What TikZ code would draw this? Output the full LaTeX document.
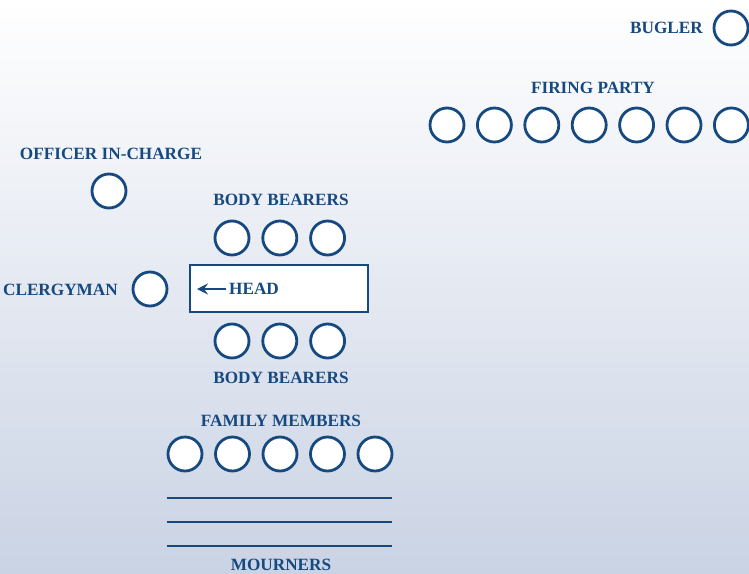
\documentclass[tikz,border=0pt]{standalone}
\usepackage{fontspec}
\setmainfont{Liberation Serif}
\usetikzlibrary{arrows.meta}
\definecolor{navy}{RGB}{22,73,128}
\definecolor{bgblue}{RGB}{202,211,228}
\tikzset{
  seat/.style={circle, draw=navy, fill=white, line width=2.8pt, minimum size=34pt, inner sep=0pt},
  role/.style={text=navy, font=\bfseries\fontsize{17.2}{19}\selectfont, inner sep=0pt},
}
\begin{document}
\begin{tikzpicture}[x=1pt,y=-1pt]
% Background
\fill[top color=white, bottom color=bgblue] (0,0) rectangle (749,573);
\useasboundingbox (0,0) rectangle (749,573);
% Bugler
\node[seat] (bugler) at (731,28) {};
\node[role, anchor=east] (bugler-label) at (703,28) {BUGLER};
% Firing party
\node[role] (firing-label) at (593,88) {FIRING PARTY};
\foreach \i in {0,...,6}
  \node[seat] (firing\i) at (447+47.4*\i,125) {};
% Officer in charge
\node[role] (officer-label) at (111,154) {OFFICER IN-CHARGE};
\node[seat] (officer) at (109,191) {};
% Body bearers, upper side
\node[role] (upper-label) at (281,200) {BODY BEARERS};
\foreach \i in {0,1,2}
  \node[seat] (upper\i) at (232+47.8*\i,238) {};
% Clergyman and casket
\node[role, anchor=east] (clergy-label) at (118,290) {CLERGYMAN};
\node[seat] (clergy) at (150,289) {};
\draw[navy, line width=2.8pt, fill=white] (190,265) rectangle (368,312);
\node[role, anchor=west] (head) at (229,289) {HEAD};
\coordinate (head-tip) at (197,289);
\draw[-{Stealth[length=11pt, width=11pt, inset=4pt]}, navy, line width=1.8pt,
  shorten <=3pt] (head.west) -- (head-tip);
% Body bearers, lower side
\foreach \i in {0,1,2}
  \node[seat] (lower\i) at (232+47.8*\i,341) {};
\node[role] (lower-label) at (281,378) {BODY BEARERS};
% Family members
\node[role] (family-label) at (281,421) {FAMILY MEMBERS};
\foreach \i in {0,...,4}
  \node[seat] (family\i) at (185+47.5*\i,454) {};
% Mourners
\foreach \y in {498,522,546}
  \draw[navy, line width=2.8pt] (167,\y) -- (392,\y);
\node[role] (mourners-label) at (281,565) {MOURNERS};
\end{tikzpicture}
\end{document}
